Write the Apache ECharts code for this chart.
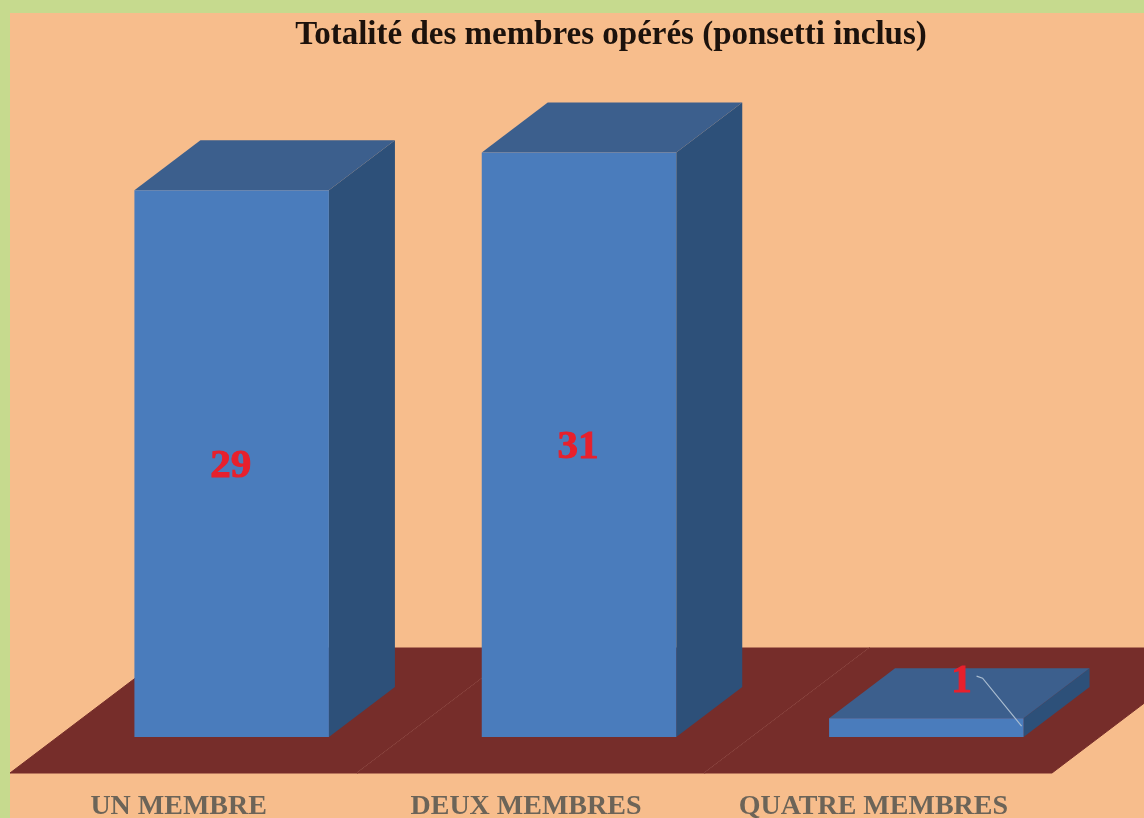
<!DOCTYPE html>
<html>
<head>
<meta charset="utf-8">
<title>Totalité des membres opérés</title>
<script src="https://cdn.jsdelivr.net/npm/echarts@6/dist/echarts.min.js"></script>
<style>
html, body { margin: 0; padding: 0; background: #c6da8e; }
#main { width: 1144px; height: 818px; }
</style>
</head>
<body>
<div id="main"></div>
<script>
var categories = ['UN MEMBRE', 'DEUX MEMBRES', 'QUATRE MEMBRES'];
var memberCounts = [29, 31, 1];
var chartTitle = 'Totalité des membres opérés (ponsetti inclus)';

// look of the fake 3d, in pixels
var depthX = 66, depthY = 50;
var barWidth = 194.5, barShift = 48;
var floorFront = 36, floorBack = 89;
var floorSlant = 165;

var serifFont = '"Liberation Serif", "Times New Roman", serif';

function renderFloor(params, api) {
    var base = api.coord([api.value(0), 0]);
    var band = api.size([1, 0])[0];
    var left = base[0] - band / 2;
    var right = base[0] + band / 2;
    var front = base[1] + floorFront;
    var back = base[1] - floorBack;
    var children = [{
        type: 'polygon',
        shape: { points: [[left, front], [right, front], [right + floorSlant, back], [left + floorSlant, back]] },
        style: { fill: '#762d2a', stroke: '#762d2a', lineWidth: 1 }
    }];
    // thin divider between two floor bands
    if (params.dataIndex < categories.length - 1) {
        children.push({
            type: 'line',
            shape: { x1: right, y1: front, x2: right + floorSlant, y2: back },
            style: { stroke: '#a8685f', lineWidth: 1.2 }
        });
    }
    return { type: 'group', children: children };
}

function renderBar(params, api) {
    var val = api.value(1);
    var base = api.coord([api.value(0), 0]);
    var top = api.coord([api.value(0), val]);
    var x0 = base[0] + barShift - barWidth / 2;
    var x1 = x0 + barWidth;
    var y0 = base[1], y1 = top[1];
    var children = [
        {
            type: 'polygon',
            shape: { points: [[x1, y0], [x1 + depthX, y0 - depthY], [x1 + depthX, y1 - depthY], [x1, y1]] },
            style: { fill: '#2d5079' }
        },
        {
            type: 'polygon',
            shape: { points: [[x0, y1], [x1, y1], [x1 + depthX, y1 - depthY], [x0 + depthX, y1 - depthY]] },
            style: { fill: '#3c5f8d' }
        },
        {
            type: 'rect',
            shape: { x: x0, y: y1, width: barWidth, height: y0 - y1 },
            style: { fill: '#4a7cbc' }
        }
    ];
    var lx = (x0 + x1) / 2 - 1, ly = (y0 + y1) / 2 + 3;
    // bar too thin for its label: put it up on the top face, with a leader line
    if (y0 - y1 < 40) {
        lx = x1 - 62;
        ly = y1 - 37;
        children.push({
            type: 'polyline',
            shape: { points: [[x1 - 47, y1 - 42], [x1 - 41, y1 - 40], [x1 - 2, y1 + 8]] },
            style: { fill: 'none', stroke: '#a9bcd0', lineWidth: 1.2 }
        });
    }
    children.push({
        type: 'text',
        style: {
            text: String(val), x: lx, y: ly, align: 'center', verticalAlign: 'middle',
            fill: '#e8202c', stroke: '#e8202c', lineWidth: 1,
            font: 'bold 41px ' + serifFont
        }
    });
    return { type: 'group', children: children };
}

var floorData = [], barData = [];
for (var i = 0; i < categories.length; i++) {
    floorData.push([i, 0]);
    barData.push([i, memberCounts[i]]);
}

var chart = echarts.init(document.getElementById('main'));
chart.setOption({
    animation: false,
    backgroundColor: '#c6da8e',
    graphic: [{
        type: 'rect', z: -10, silent: true,
        shape: { x: 10, y: 13, width: 1134, height: 805 },
        style: { fill: '#f7bd8c' }
    }],
    title: {
        text: chartTitle, left: 606, top: 14, textAlign: 'center',
        textStyle: { fontFamily: serifFont, fontWeight: 'bold', fontSize: 33, color: '#1c120c' }
    },
    // labels run right to the bottom edge, do not let v6 shrink the grid for them
    grid: { left: 10, width: 1042, top: 77, height: 660, outerBoundsMode: 'none' },
    xAxis: {
        type: 'category', data: categories,
        axisLine: { show: false }, axisTick: { show: false },
        axisLabel: {
            interval: 0, margin: 56, padding: [0, 10, 0, 0],
            fontFamily: serifFont, fontWeight: 'bold', fontSize: 28, color: '#6c6458'
        }
    },
    yAxis: { type: 'value', min: 0, max: 35, show: false, splitLine: { show: false } },
    series: [
        { type: 'custom', name: 'sol', renderItem: renderFloor, data: floorData, clip: false, z: 1, silent: true },
        { type: 'custom', name: 'membres', renderItem: renderBar, data: barData, clip: false, z: 2 }
    ]
});
</script>
</body>
</html>
